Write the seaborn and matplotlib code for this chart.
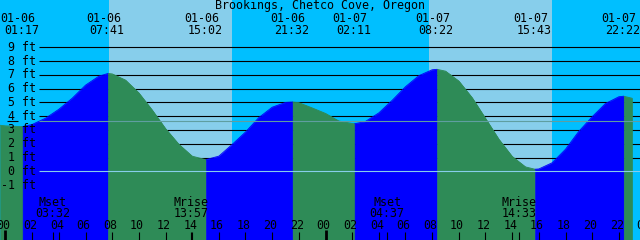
import numpy as np
import pandas as pd
import matplotlib
matplotlib.use("Agg")
import matplotlib.pyplot as plt
import matplotlib.transforms as mtransforms
import seaborn as sns

# ------------------------------------------------------------------ data
title = "Brookings, Chetco Cove, Oregon"

event_dates = ["01-06", "01-06", "01-06", "01-06", "01-07", "01-07", "01-07", "01-07"]
event_times = ["01:17", "07:41", "15:02", "21:32", "02:11", "08:22", "15:43", "22:22"]
event_types = ["L", "H", "L", "H", "L", "H", "L", "H"]
event_heights = [3.25, 7.10, 0.85, 5.03, 3.45, 7.40, 0.15, 5.45]

# tide height (hours after 01-06 00:00, feet)
reading_hours = [-0.41, 0, 1, 2, 3, 4, 5, 6, 7, 8, 9, 10, 11, 12, 13, 14, 15, 16,
                 17, 18, 19, 20, 21, 22, 23, 24, 25, 26, 27, 28, 29, 30, 31, 32,
                 33, 34, 35, 36, 37, 38, 39, 40, 41, 42, 43, 44, 45, 46, 47, 47.59]
reading_heights = [3.34, 3.30, 3.25, 3.40, 3.85, 4.50, 5.30, 6.25, 6.90, 7.07, 6.62,
                   5.69, 4.45, 3.10, 1.96, 1.10, 0.85, 1.10, 1.95, 2.85, 3.90, 4.65,
                   5.00, 4.98, 4.60, 4.20, 3.65, 3.47, 3.62, 4.24, 5.15, 6.14, 6.94,
                   7.37, 7.27, 6.55, 5.34, 3.84, 2.33, 1.08, 0.32, 0.17, 0.62, 1.60,
                   2.90, 3.96, 4.92, 5.41, 5.30, 5.20]

sun_days = [0, 1]
sunrise_times = ["07:46", "07:46"]
sunset_times = ["16:59", "16:59"]

moon_labels = ["Mset", "Mrise", "Mset", "Mrise"]
moon_times = ["03:32", "13:57", "04:37", "14:33"]
moon_days = [0, 0, 1, 1]

level_labels = ["9 ft", "8 ft", "7 ft", "6 ft", "5 ft", "4 ft", "3 ft", "2 ft",
                "1 ft", "0 ft", "-1 ft"]
level_values = [9, 8, 7, 6, 5, 4, 3, 2, 1, 0, -1]
msl_level = 3.68

hour_labels = ["00", "02", "04", "06", "08", "10", "12", "14", "16", "18", "20", "22",
               "00", "02", "04", "06", "08", "10", "12", "14", "16", "18", "20", "22",
               "00"]
hour_positions = [0, 2, 4, 6, 8, 10, 12, 14, 16, 18, 20, 22,
                  24, 26, 28, 30, 32, 34, 36, 38, 40, 42, 44, 46, 48]

# ------------------------------------------------------------------ helpers
def clock(t, day=0):
    hh, mm = t.split(":")
    return day * 24 + int(hh) + int(mm) / 60.0

event_hours = [clock(t, int(d[-2:]) - 6) for d, t in zip(event_dates, event_times)]
sunrise_hours = [clock(t, d) for t, d in zip(sunrise_times, sun_days)]
sunset_hours = [clock(t, d) for t, d in zip(sunset_times, sun_days)]
moon_hours = [clock(t, d) for t, d in zip(moon_times, moon_days)]

W, H = 640, 240
PX_PER_H = 40 / 3.0
X0 = 5.5
PX_PER_FT = 13.78
Y0 = 171.3

def hx(px):
    return (px - X0) / PX_PER_H

def fy(py):
    return (Y0 - py) / PX_PER_FT

NIGHT = "#00BFFF"
DAY = "#87CEEB"
RISE = "#0000FF"
FALL = "#2E8B57"
MSL = "#5F9EA0"
ZERO = "#87CEEB"

sns.set_style("white")
plt.rcParams["font.family"] = ["DejaVu Sans Mono"]
FS = 8.4

fig = plt.figure(figsize=(6.4, 2.4), dpi=100)
ax = fig.add_axes([0, 0, 1, 1])
xmin, xmax = hx(0), hx(W)
ymin, ymax = fy(H), fy(0)
ax.set_xlim(xmin, xmax)
ax.set_ylim(ymin, ymax)
ax.axis("off")

# background: night / day
ax.axvspan(xmin, xmax, color=NIGHT, lw=0, zorder=0)
for a, b in zip(sunrise_hours, sunset_hours):
    ax.axvspan(a, b, color=DAY, lw=0, zorder=0.5)

# level grid lines (behind the water)
for lv in level_values:
    if lv > 0:
        ax.hlines(lv, hx(39), xmax, color="black", lw=0.8, zorder=1)

# tide curve: merge readings and extremes
df = pd.DataFrame({"hour": reading_hours + event_hours,
                   "height": reading_heights + event_heights})
df = df.sort_values("hour").drop_duplicates("hour").reset_index(drop=True)

bounds = [xmin] + event_hours + [xmax]
seg_frames = []
for i in range(len(bounds) - 1):
    a, b = bounds[i], bounds[i + 1]
    rising = i < len(event_types) and event_types[i] == "H"
    seg = df[(df.hour >= a - 1e-9) & (df.hour <= b + 1e-9)].copy()
    seg["segment"] = i
    seg["phase"] = "rise" if rising else "fall"
    seg_frames.append(seg)
    col = RISE if rising else FALL
    ax.fill_between(seg.hour, seg.height, ymin, color=col, lw=0.4, ec=col, zorder=2)
segs = pd.concat(seg_frames)

sns.lineplot(data=segs, x="hour", y="height", hue="phase", units="segment",
             estimator=None, sort=False, palette={"rise": RISE, "fall": FALL},
             lw=0.6, legend=False, ax=ax, zorder=3)
ax.set_xlim(xmin, xmax)
ax.set_ylim(ymin, ymax)
ax.axis("off")

# reference lines on top of the water
ax.hlines(msl_level, hx(39), xmax, color=MSL, lw=0.8, zorder=4)
ax.hlines(0, hx(39), xmax, color=ZERO, lw=0.8, zorder=4)
ax.hlines(msl_level, hx(7), hx(18), color="black", lw=0.8, zorder=6)

# level labels
right_tr = mtransforms.blended_transform_factory(ax.transAxes, ax.transData)
for lab, lv in zip(level_labels, level_values):
    ax.text(36 / W, lv, lab, transform=right_tr, ha="right", va="center",
            fontsize=FS, color="black", zorder=5)

# title and high/low labels
xt = ax.get_xaxis_transform()

def ypx(py):
    return 1 - py / H

ax.text(0.5, ypx(9), title, transform=ax.transAxes, ha="center", va="baseline",
        fontsize=FS, color="black", zorder=5)
date_tr = mtransforms.offset_copy(xt, fig=fig, x=-4.5, y=0, units="dots")
time_tr = mtransforms.offset_copy(xt, fig=fig, x=-1, y=0, units="dots")
for d, t, h in zip(event_dates, event_times, event_hours):
    ax.text(h, ypx(21.7), d, transform=date_tr, ha="center", va="baseline",
            fontsize=FS, color="black", zorder=5)
    ax.text(h, ypx(34.3), t, transform=time_tr, ha="center", va="baseline",
            fontsize=FS, color="black", zorder=5)

# moon labels
for lab, t, h in zip(moon_labels, moon_times, moon_hours):
    ax.text(h, ypx(205.7), lab, transform=xt, ha="center", va="baseline",
            fontsize=FS, color="black", zorder=5)
    ax.text(h, ypx(217.3), t, transform=xt, ha="center", va="baseline",
            fontsize=FS, color="black", zorder=5)

# hour axis
lab_tr = mtransforms.offset_copy(xt, fig=fig, x=-2, y=0, units="dots")
for lab, h in zip(hour_labels, hour_positions):
    ax.text(h, ypx(229.3), lab, transform=lab_tr, ha="center", va="baseline",
            fontsize=FS, color="black", zorder=5)
    thick = (h % 24) == 0
    ax.vlines(h, fy(240), fy(229.5 if thick else 232), color="black",
              lw=2.0 if thick else 0.8, zorder=5)
for h in moon_hours:
    ax.vlines(h, fy(240), fy(232), color="black", lw=0.8, zorder=5)

fig.savefig("out.png", dpi=100)
